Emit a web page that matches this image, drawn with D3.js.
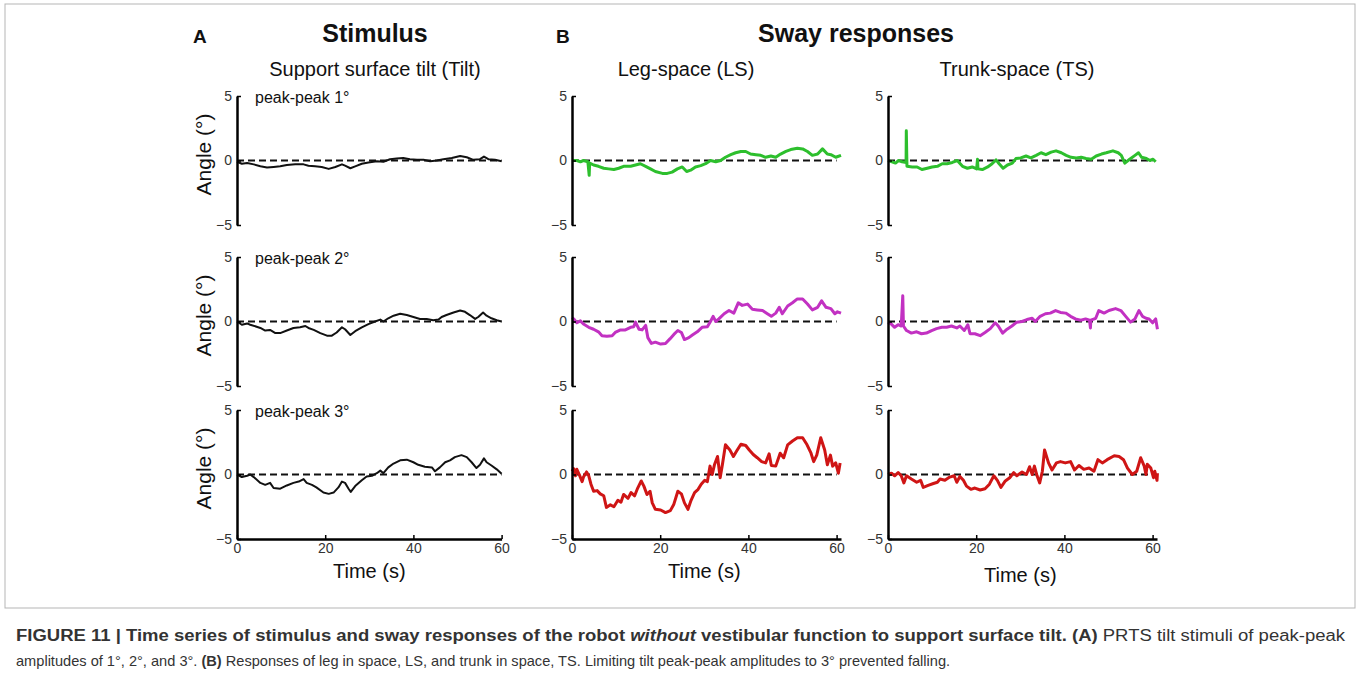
<!DOCTYPE html>
<html>
<head>
<meta charset="utf-8">
<script src="https://cdn.jsdelivr.net/npm/d3@7"></script>
<style>
  body { margin: 0; background: #fff; }
  svg { display: block; font-family: "Liberation Sans", Arial, sans-serif; }
</style>
</head>
<body>
<div id="chart"></div>
<script>
// ---- data: [time (s), angle (deg)] ----
var tilt1 = [[0,-0.1],[1.1,-0.25],[2.3,-0.2],[3.8,-0.3],[5.3,-0.45],[6.8,-0.55],[8.3,-0.5],[9.8,-0.45],[11.3,-0.35],[13.2,-0.3],[15.1,-0.3],[16.2,-0.4],[17.7,-0.45],[19.2,-0.5],[20.8,-0.65],[22.3,-0.5],[23.8,-0.3],[24.5,-0.4],[25.7,-0.6],[26.8,-0.45],[28.3,-0.25],[29.8,-0.15],[31.7,-0.05],[33.2,-0.1],[34.7,0.1],[36.2,0.15],[37.7,0.2],[39.2,0.1],[40.8,0.05],[42.3,0.05],[43.8,-0.05],[45.3,0],[46.8,0.1],[48.7,0.2],[50.6,0.35],[52.1,0.25],[53.6,0.05],[55.1,0.1],[56,0.3],[57,0.1],[58.5,0.05],[60,-0.05]];
var tilt2 = [[0,0],[1.1,-0.25],[2.3,-0.15],[3,-0.25],[5.3,-0.5],[6.4,-0.7],[7.5,-0.65],[8.7,-0.9],[9.8,-0.9],[11.3,-0.7],[12.8,-0.5],[14.3,-0.45],[15.5,-0.35],[16.2,-0.5],[17.4,-0.65],[18.9,-0.9],[20.4,-1.1],[21.5,-1.1],[22.6,-0.85],[23.8,-0.45],[24.5,-0.6],[25.7,-1.05],[26.8,-0.75],[28.3,-0.45],[29.8,-0.2],[31.3,0],[32.5,0.15],[33.2,0],[34.3,0.25],[35.5,0.45],[37,0.6],[38.5,0.5],[40,0.35],[41.5,0.2],[43,0.2],[44.5,0.1],[45.7,0.15],[46.4,0.35],[47.5,0.5],[49.1,0.7],[50.6,0.85],[51.7,0.75],[52.8,0.5],[54,0.2],[54.7,0.35],[55.8,0.7],[56.6,0.45],[57.7,0.25],[58.9,0.1],[60,0]];
var tilt3 = [[0,0],[1.1,-0.2],[2.3,-0.1],[3,0],[3.8,-0.2],[5.3,-0.65],[6.4,-0.8],[7.5,-0.65],[8.3,-1.05],[9.8,-1.1],[11.3,-0.85],[12.8,-0.65],[14,-0.55],[15.1,-0.35],[15.8,-0.65],[17,-0.8],[18,-1.0],[19.6,-1.4],[20.8,-1.5],[21.9,-1.4],[23,-1.0],[23.8,-0.55],[24.5,-0.65],[25.3,-1.1],[25.8,-1.35],[26.8,-0.9],[28.3,-0.45],[29.4,-0.15],[30.6,-0.1],[31.7,0.1],[32.5,0.3],[33.2,0.1],[34.3,0.55],[35.5,0.85],[37,1.1],[38.5,1.15],[40,0.95],[41.1,0.75],[42.6,0.6],[44.2,0.55],[44.9,0.25],[46,0.55],[47.2,0.95],[48.3,1.1],[49.4,1.35],[50.9,1.5],[52.1,1.35],[53.2,0.95],[54.3,0.5],[55.1,0.75],[56,1.25],[56.6,0.95],[57.7,0.7],[58.9,0.4],[60,0.05]];

var ls1 = [[0,0],[1.1,0],[1.9,-0.1],[2.6,0],[3.6,-0.1],[3.9,-1.15],[4.0,-0.2],[4.9,-0.35],[6,-0.45],[7.2,-0.6],[8.3,-0.65],[9.5,-0.7],[10.6,-0.6],[11.7,-0.45],[13.3,-0.45],[14.4,-0.35],[15.5,-0.25],[16.7,-0.45],[17.8,-0.65],[18.9,-0.85],[20.5,-1.0],[21.6,-1.0],[22.7,-0.9],[23.9,-0.65],[25,-0.5],[26,-0.85],[26.9,-0.75],[28,-0.5],[29.2,-0.4],[30.3,-0.25],[31.4,0],[32.6,-0.1],[33.7,0],[34.8,0.25],[36,0.45],[37.1,0.6],[38.3,0.7],[39.4,0.7],[40.5,0.5],[41.7,0.45],[42.8,0.4],[43.9,0.25],[45.1,0.35],[46.2,0.25],[47.3,0.5],[48.5,0.7],[49.6,0.85],[51.1,0.95],[52.3,0.9],[53.4,0.7],[54.5,0.4],[55.7,0.5],[56.8,0.9],[57.9,0.5],[58.7,0.45],[59.8,0.25],[61,0.4]];
var ls2 = [[0,0.3],[0.4,0.2],[1.1,-0.1],[1.9,0.05],[2.6,-0.2],[3.8,-0.45],[4.9,-0.6],[6,-0.8],[6.8,-1.1],[7.9,-1.15],[9.1,-1.1],[9.8,-0.85],[11,-0.65],[12.1,-0.65],[13.3,-0.45],[14,-0.4],[14.4,-0.05],[15.2,-0.6],[15.9,-0.65],[16.7,-0.3],[17.2,-1.25],[18,-1.7],[18.9,-1.6],[20.1,-1.75],[21.2,-1.7],[22.2,-1.35],[23.1,-1.0],[24,-0.7],[24.8,-0.85],[25.5,-1.4],[26.5,-1.25],[27.3,-1.05],[28.4,-0.8],[29.5,-0.45],[30.7,-0.4],[31.4,0],[32,0.4],[32.6,0],[33.3,0.2],[34.5,0.6],[35.6,0.85],[36.7,0.65],[37.7,1.45],[38.6,1.25],[39.8,1.35],[40.9,0.95],[42,0.9],[43.2,0.85],[44.3,0.6],[45.2,0.4],[46.2,0.65],[47,1.1],[47.7,0.6],[48.9,1.2],[50,1.45],[51.1,1.75],[52.3,1.75],[53.4,1.35],[54.5,0.9],[55.7,1.1],[56.6,1.6],[57.6,1.1],[58.7,1.0],[59.6,0.6],[60.2,0.75],[61,0.65]];
var ls3 = [[0,0.25],[0.4,0.45],[0.8,-0.1],[1.1,0.4],[1.7,-0.05],[2.3,-0.55],[2.6,-0.2],[3.3,0.2],[3.8,-0.1],[4.3,-0.75],[4.9,-1.3],[5.7,-1.25],[6.4,-1.5],[7.2,-1.65],[7.8,-2.55],[8.7,-2.35],[9.5,-2.5],[10.4,-2.0],[11.1,-2.15],[11.7,-1.55],[12.7,-1.85],[13.4,-1.4],[14.2,-1.65],[14.9,-1.05],[15.7,-0.5],[16.3,-0.9],[17,-1.55],[17.7,-1.3],[18.2,-2.2],[18.9,-2.7],[20.1,-2.75],[21.2,-2.95],[22.3,-2.8],[23.1,-2.3],[24,-1.3],[24.8,-1.5],[25.5,-2.2],[26.3,-2.7],[27,-2.0],[27.8,-1.4],[28.6,-1.15],[29.3,-0.75],[30.1,-0.45],[30.7,-0.55],[31.3,0.65],[31.8,0],[32.3,0.75],[33,1.4],[33.6,-0.25],[34.1,0.75],[34.8,2.3],[35.8,1.9],[36.6,1.4],[37.3,1.8],[38.3,2.35],[39.4,2.25],[40.2,1.9],[41.1,1.55],[42,1.3],[43,1.0],[43.9,0.9],[44.7,1.6],[45.2,0.7],[46.2,0.65],[47.2,1.65],[48,1.3],[48.9,2.3],[50,2.6],[51.1,2.85],[52.3,2.85],[53.3,2.3],[54.2,1.65],[54.8,1.0],[55.5,1.5],[56.4,2.85],[57.3,1.9],[57.9,0.75],[58.6,1.5],[59.1,0.65],[59.8,0.9],[60.4,0.1],[60.8,0.9]];

var ts1 = [[0,0],[0.9,-0.1],[1.7,-0.2],[2.4,0],[3.2,-0.1],[4.1,-0.15],[4.15,2.3],[4.3,-0.45],[5.5,-0.5],[6.6,-0.5],[7.7,-0.7],[8.9,-0.6],[10,-0.5],[11.2,-0.45],[12.3,-0.25],[13.4,-0.25],[14.6,-0.15],[15.7,0],[16.9,-0.45],[18,-0.6],[19.1,-0.5],[20.1,-0.65],[20.3,0.1],[20.4,-0.65],[21.4,-0.7],[22.6,-0.5],[23.6,-0.25],[24.5,0.05],[25.2,-0.25],[26.1,-0.6],[27.1,-0.35],[28.2,-0.2],[29,0.15],[30.1,0.2],[31.3,0.35],[32.4,0.2],[33.6,0.4],[34.7,0.6],[35.8,0.45],[37,0.65],[38.1,0.75],[39.3,0.6],[40.4,0.4],[41.5,0.25],[42.7,0.2],[43.8,0.25],[44.9,0.15],[46.1,0.1],[47.2,0.35],[48.4,0.5],[49.5,0.6],[51,0.75],[52.2,0.6],[52.9,0.4],[53.7,-0.2],[54.8,0.1],[56,0.4],[56.8,0.6],[57.5,0.25],[58.6,0.15],[59.4,0],[60.1,0.1],[60.7,-0.1]];
var ts2 = [[0,-0.05],[0.75,-0.2],[1.5,-0.45],[2.3,-0.25],[3.0,-0.35],[3.35,2.0],[3.5,-0.35],[4.2,-0.7],[5.3,-0.9],[6.5,-0.8],[7.6,-0.95],[8.7,-0.9],[9.9,-0.7],[11,-0.55],[12.2,-0.45],[13.3,-0.45],[14.4,-0.35],[15.6,-0.5],[16.3,-0.35],[17.3,-0.7],[18.1,-0.25],[18.6,-0.95],[19.7,-0.95],[20.9,-1.1],[22,-0.85],[23.2,-0.55],[24.3,-0.1],[25,-0.35],[26,-0.9],[27,-0.6],[28.1,-0.35],[29.2,-0.05],[30.4,0],[31.5,0.15],[32.7,0.25],[33.4,0],[34.5,0.4],[35.7,0.6],[36.8,0.65],[38,0.85],[39.1,0.7],[40.3,0.65],[41.4,0.4],[42.5,0.2],[43.7,0.1],[44.8,0.2],[45.7,0.1],[45.9,-0.5],[46,0.1],[47.1,0.25],[47.8,0.85],[49,0.65],[50.1,0.85],[51.6,1.0],[52.8,0.85],[53.9,0.4],[55,-0.05],[56,0.2],[56.9,0.85],[57.7,0.4],[58.5,0.25],[59.2,0.2],[60,-0.1],[60.7,0.2],[61.1,-0.6]];
var ts3 = [[0,0],[0.8,0.1],[1.5,-0.1],[2.3,0.15],[3,-0.1],[3.6,-0.65],[4.2,-0.1],[5.3,-0.35],[6.5,-0.6],[7.4,-0.45],[8,-1.0],[9.1,-0.85],[10.3,-0.7],[11.2,-0.6],[11.8,-0.35],[12.9,-0.45],[14,-0.2],[15,-0.1],[15.6,-0.6],[16.3,-0.15],[17.1,-0.45],[17.8,-0.9],[18.8,-1.15],[19.7,-1.05],[20.9,-1.2],[22,-1.1],[23,-0.75],[24,-0.1],[24.8,-0.45],[25.6,-1.0],[26.6,-0.5],[27.6,-0.25],[28.5,0.15],[29.2,-0.1],[30.4,0.2],[31.4,0],[32.1,0.6],[32.7,0],[33.2,0.65],[33.8,-0.1],[34.4,-0.65],[35,0.25],[35.5,1.9],[36.4,0.9],[37.2,0.35],[38.2,0.9],[39.1,1.0],[40.2,0.9],[41.4,1.0],[42.3,0.35],[43.3,0.7],[44.4,0.4],[45.6,0.5],[46.7,0.25],[47.6,1.15],[48.6,0.9],[49.7,1.15],[51.3,1.45],[52.4,1.4],[53.4,1.15],[54.3,0.5],[55.4,0],[56.4,0.25],[57.3,1.3],[58.1,0.65],[58.5,0],[58.8,0.8],[59.6,0.5],[60.2,-0.25],[60.5,0.25],[61,-0.45],[61.1,0.1]];

var columnTitles = ["Support surface tilt (Tilt)", "Leg-space (LS)", "Trunk-space (TS)"];
var rowLabels = ["peak-peak 1°", "peak-peak 2°", "peak-peak 3°"];
var yTicks = [-5, 0, 5];
var xTicks = [0, 20, 40, 60];
var seriesGrid = [[tilt1, ls1, ts1], [tilt2, ls2, ts2], [tilt3, ls3, ts3]];

// ---- layout ----
var rowColors = ["#2dbf2d", "#c231c2", "#cf1515"];
var colLeft = [237, 572, 888];
var colXMax = [60, 61, 61];
var rowTop = [96, 257, 410];
var panelH = 129;
var pxPerSec = 4.41;

var svg = d3.select("#chart").append("svg")
    .attr("width", 1360)
    .attr("height", 677);

svg.append("rect")
    .attr("x", 5).attr("y", 4)
    .attr("width", 1350).attr("height", 604)
    .attr("fill", "none")
    .attr("stroke", "#b5b5b5")
    .attr("stroke-width", 1);

// headers
var head = svg.append("g").attr("fill", "#111");
head.append("text").attr("x", 193).attr("y", 43).text("A")
    .style("font-weight", "bold").style("font-size", "19px");
head.append("text").attr("x", 375).attr("y", 42).text("Stimulus")
    .attr("text-anchor", "middle").style("font-weight", "bold").style("font-size", "25px");
head.append("text").attr("x", 556).attr("y", 43).text("B")
    .style("font-weight", "bold").style("font-size", "19px");
head.append("text").attr("x", 856).attr("y", 42).text("Sway responses")
    .attr("text-anchor", "middle").style("font-weight", "bold").style("font-size", "25px");

var subX = [375, 686, 1017];
columnTitles.forEach(function (t, i) {
    head.append("text")
        .attr("x", subX[i]).attr("y", 76)
        .attr("text-anchor", "middle")
        .style("font-size", "20px")
        .text(t);
});

for (var r = 0; r < 3; r++) {
    for (var c = 0; c < 3; c++) {
        var x = d3.scaleLinear()
            .domain([0, colXMax[c]])
            .range([colLeft[c], colLeft[c] + colXMax[c] * pxPerSec]);
        var y = d3.scaleLinear()
            .domain([-5, 5])
            .range([rowTop[r] + panelH, rowTop[r]]);
        var g = svg.append("g");

        // zero reference
        g.append("line")
            .attr("x1", x(0)).attr("x2", x(60))
            .attr("y1", y(0)).attr("y2", y(0))
            .attr("stroke", "#111")
            .attr("stroke-width", 2)
            .attr("stroke-dasharray", "7,4");

        var line = d3.line()
            .x(function (d) { return x(d[0]); })
            .y(function (d) { return y(d[1]); });
        g.append("path")
            .datum(seriesGrid[r][c])
            .attr("d", line)
            .attr("fill", "none")
            .attr("stroke", c === 0 ? "#111" : rowColors[r])
            .attr("stroke-width", c === 0 ? 2 : 3)
            .attr("stroke-linejoin", "round");

        var ya = g.append("g")
            .attr("transform", "translate(" + x(0) + ",0)")
            .call(d3.axisLeft(y).tickValues(yTicks).tickSize(-4).tickSizeOuter(0).tickPadding(5));
        ya.select(".domain").attr("stroke", "#000").attr("stroke-width", 2.5);
        ya.selectAll(".tick line").attr("stroke", "#000").attr("stroke-width", 1.5);
        ya.selectAll(".tick text").attr("fill", "#333")
            .style("font-size", "14px").style("font-family", "Liberation Sans, Arial, sans-serif");

        if (r === 2) {
            var xa = g.append("g")
                .attr("transform", "translate(0," + y(-5) + ")")
                .call(d3.axisBottom(x).tickValues(xTicks).tickSize(-4).tickSizeOuter(0).tickPadding(4));
            xa.select(".domain").attr("stroke", "#000").attr("stroke-width", 2.5);
            xa.selectAll(".tick line").attr("stroke", "#000").attr("stroke-width", 1.5);
            xa.selectAll(".tick text").attr("fill", "#333")
                .style("font-size", "14px").style("font-family", "Liberation Sans, Arial, sans-serif");
            g.append("text")
                .attr("x", (x(0) + x(60)) / 2)
                .attr("y", c === 2 ? 582 : 578)
                .attr("text-anchor", "middle")
                .attr("fill", "#111")
                .style("font-size", "20px")
                .text("Time (s)");
        }

        if (c === 0) {
            g.append("text")
                .attr("transform", "translate(211," + (rowTop[r] + panelH / 2 - 6) + ") rotate(-90)")
                .attr("text-anchor", "middle")
                .attr("fill", "#111")
                .style("font-size", "21px")
                .text("Angle (°)");
            g.append("text")
                .attr("x", 255).attr("y", rowTop[r] + 7)
                .attr("fill", "#111")
                .style("font-size", "16px")
                .text(rowLabels[r]);
        }
    }
}

// caption
var cap1 = svg.append("text")
    .attr("x", 16).attr("y", 641)
    .attr("fill", "#333")
    .attr("textLength", 1329)
    .attr("lengthAdjust", "spacingAndGlyphs")
    .style("font-size", "16px");
cap1.append("tspan").style("font-weight", "bold")
    .text("FIGURE 11 | Time series of stimulus and sway responses of the robot ");
cap1.append("tspan").style("font-weight", "bold").style("font-style", "italic").text("without");
cap1.append("tspan").style("font-weight", "bold")
    .text(" vestibular function to support surface tilt. (A)");
cap1.append("tspan").text(" PRTS tilt stimuli of peak-peak");

var cap2 = svg.append("text")
    .attr("x", 16).attr("y", 666)
    .attr("fill", "#333")
    .style("font-size", "14.6px");
cap2.append("tspan").text("amplitudes of 1°, 2°, and 3°. ");
cap2.append("tspan").style("font-weight", "bold").text("(B)");
cap2.append("tspan")
    .text(" Responses of leg in space, LS, and trunk in space, TS. Limiting tilt peak-peak amplitudes to 3° prevented falling.");
</script>
</body>
</html>
